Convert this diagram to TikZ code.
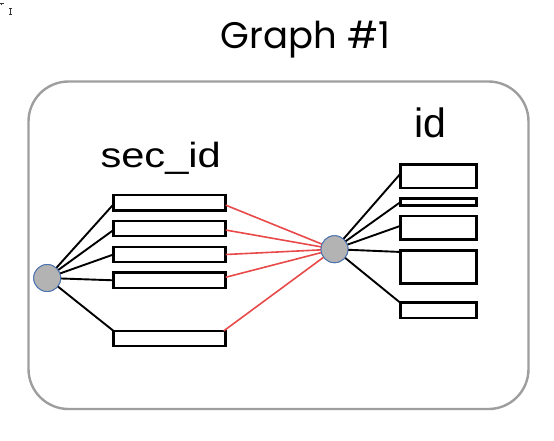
\documentclass[tikz,border=0pt]{standalone}
\usepackage{fontspec}
\setmainfont{Liberation Sans}
\newfontfamily\titlefont{Poppins}
\usetikzlibrary{calc}
\definecolor{framegray}{HTML}{9E9E9E}
\definecolor{dotfill}{HTML}{B3B3B3}
\definecolor{dotedge}{HTML}{4A72B0}
\definecolor{redline}{HTML}{E84A4A}
\tikzset{
  recbox/.style={draw=black, line width=2.6pt, rectangle, inner sep=0pt, outer sep=0pt, fill=white},
  hub/.style={circle, draw=dotedge, line width=0.9pt, fill=dotfill, minimum size=27pt, inner sep=0pt, outer sep=0pt},
  blk/.style={draw=black, line width=1.9pt},
  rdl/.style={draw=redline, line width=1.6pt},
  lbl/.style={inner sep=0pt, outer sep=0pt, anchor=base west}
}
\begin{document}
\begin{tikzpicture}[x=1pt,y=-1pt]
\useasboundingbox (0,0) rectangle (554,440);
% tiny cursor artifact
\draw[line width=0.6pt, black!80] (0,3) -- (4,3) (1,3) -- (1,5);
\draw[line width=0.6pt, black!80] (9,8) -- (12,8) (10.5,8) -- (10.5,14) (9,14) -- (12,14);
% frame
\draw[framegray, line width=2.4pt, rounded corners=40pt] (28.5,81.5) rectangle (528.5,409);
% title
\node[inner sep=0pt, anchor=base] (title) at (305.5,48) {\titlefont\fontsize{37}{44}\selectfont Graph \#1};
% labels
\node[lbl] (seclbl) at (100.5,167.7) {\fontsize{35}{40}\selectfont\scalebox{1.19}[1]{sec\_id}};
\node[lbl] (idlbl) at (414,137.3) {\fontsize{41}{46}\selectfont id};
% left boxes
\node[recbox, minimum width=112.3pt, minimum height=15.7pt] (l1) at (169.6,202.8) {};
\node[recbox, minimum width=112.3pt, minimum height=15.3pt] (l2) at (169.6,228.5) {};
\node[recbox, minimum width=112.3pt, minimum height=15.3pt] (l3) at (169.6,254.5) {};
\node[recbox, minimum width=112.3pt, minimum height=15.3pt] (l4) at (169.6,280.3) {};
\node[recbox, minimum width=112.3pt, minimum height=15.3pt] (l5) at (169.6,338.5) {};
% right boxes
\node[recbox, minimum width=76pt, minimum height=23.7pt] (ra) at (438.3,176.2) {};
\node[recbox, minimum width=76pt, minimum height=7pt] (rb) at (438.3,202.2) {};
\node[recbox, minimum width=76pt, minimum height=23.7pt] (rc) at (438.3,227.8) {};
\node[recbox, minimum width=76pt, minimum height=33pt] (rd) at (438.3,266.8) {};
\node[recbox, minimum width=76pt, minimum height=15.3pt] (re) at (438.3,310.4) {};
% hubs
\node[hub] (lc) at (47.2,278) {};
\node[hub] (rcirc) at (334.5,249.2) {};
% left connectors
\draw[blk] (lc) -- ($(l1.north west)!0.6!(l1.south west)$);
\draw[blk] (lc) -- ($(l2.north west)!0.6!(l2.south west)$);
\draw[blk] (lc) -- (l3.west);
\draw[blk] (lc) -- (l4.west);
\draw[blk] (lc) -- (l5.north west);
% right connectors
\draw[blk] (rcirc) -- ($(ra.north west)!0.4!(ra.south west)$);
\draw[blk] (rcirc) -- (rb.west);
\draw[blk] (rcirc) -- ($(rc.north west)!0.42!(rc.south west)$);
\draw[blk] (rcirc) -- ($(rd.north west)!0.05!(rd.south west)$);
\draw[blk] (rcirc) -- (re.north west);
% red connectors
\draw[rdl] ($(l1.north east)!0.65!(l1.south east)$) -- (rcirc);
\draw[rdl] ($(l2.north east)!0.6!(l2.south east)$) -- (rcirc);
\draw[rdl] (l3.east) -- (rcirc);
\draw[rdl] ($(l4.north east)!0.3!(l4.south east)$) -- (rcirc);
\draw[rdl] ($(l5.north east)+(-2,0)$) -- (rcirc);
\node[hub] at (lc) {};
\node[hub] at (rcirc) {};
\end{tikzpicture}
\end{document}
